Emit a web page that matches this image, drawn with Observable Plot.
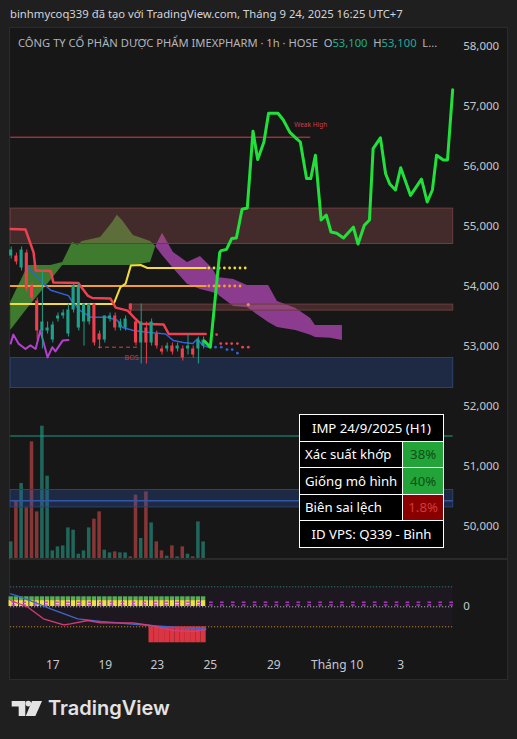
<!DOCTYPE html>
<html><head><meta charset="utf-8">
<script src="https://cdn.jsdelivr.net/npm/d3@7"></script>
<script src="https://cdn.jsdelivr.net/npm/@observablehq/plot@0.6"></script>
<style>
body{margin:0;background:#1f1f1f;width:517px;height:739px;overflow:hidden;position:relative;font-family:"Noto Sans",sans-serif}
.abs{position:absolute}
#panel{left:9px;top:27px;width:497px;height:651px;background:#171717;border:1px solid #2b2b2b}
#sep{left:10px;top:558px;width:497px;height:2px;background:#2a2a2a}
#hdr{left:10px;top:6px;font-size:11.3px;color:#d1d4dc;white-space:nowrap}
#ttl{left:18px;top:35px;font-size:11.2px;color:#b2b5be;white-space:nowrap}
#ttl .t{color:#22ab94}
#stats{left:299px;top:414px;border-collapse:collapse;width:145px;font-size:13.2px;color:#fff}
#stats td{border:1.5px solid #fff;height:25.5px;background:#000;padding:0 5px;white-space:nowrap}
#stats td.hd{text-align:center}
#stats td.v{text-align:center;width:30px}
#logo{left:11px;top:699px}
#logotxt{left:48px;top:694px;font-family:Inter,sans-serif;font-weight:600;font-size:20px;line-height:28px;color:#e3e3e3;white-space:nowrap}
</style></head><body>
<div id="panel" class="abs"></div>
<div id="hdr" class="abs">binhmycoq339 đã tạo với TradingView.com, Tháng 9 24, 2025 16:25 UTC+7</div>
<div id="ttl" class="abs">CÔNG TY CỔ PHẦN DƯỢC PHẨM IMEXPHARM · 1h · HOSE&nbsp;&nbsp;O<span class="t">53,100</span>&nbsp;&nbsp;H<span class="t">53,100</span>&nbsp;&nbsp;L...</div>
<div id="vol" class="abs" style="left:0;top:28px"></div>
<div id="price" class="abs" style="left:0;top:28px"></div>
<div id="sep" class="abs"></div>
<div id="ind" class="abs" style="left:0;top:560px"></div>
<table id="stats" class="abs"></table>
<svg id="logo" class="abs" width="34" height="20">
  <path d="M0.7 2h13.6v15h-6.6v-9.4h-7z" fill="#e3e3e3"/>
  <circle cx="17.3" cy="4.6" r="2.8" fill="#e3e3e3"/>
  <path d="M21 2h10l-6.6 15h-9.6z" fill="#e3e3e3"/>
</svg>
<div id="logotxt" class="abs">TradingView</div>
<script>
// ---------- data ----------
const barOpen  = [54500,54500,54300,54550,54000,53750,53250,53250,53100,53450,53500,53200,53600,53300,53400,53400,53700,53200,53100,53450,53500,53300,53300,53700,53400,53050,53300,53050,53200,52950,52950,53000,52950,52950,52950,52950,52950,53000];
const barHigh  = [54650,54550,54650,54600,54050,53800,54250,53400,53400,53550,53600,53700,54050,54050,53700,53700,53700,53250,53500,53550,53550,53450,53500,53700,53450,53700,53400,53450,53250,53000,53050,53050,53050,53000,53200,53000,53150,53150];
const barLow   = [54450,54350,54250,53900,53750,53100,52950,53200,53050,53400,53450,53150,53550,53250,53000,53350,53000,52950,53050,53400,53250,53250,53250,53550,53000,52700,52700,53000,52950,52850,52900,52850,52900,52750,52850,52800,52700,52950];
const barClose = [54600,54400,54600,53950,53800,53250,53400,53300,53350,53500,53550,53600,54000,54000,53700,53700,53050,53100,53500,53500,53300,53400,53450,53600,53050,53400,53050,53400,53000,52900,53000,52900,53000,52800,53000,52850,53100,53100];
const barVolume = [17600,58600,76000,51600,117600,47600,133300,83300,8600,12600,13600,31600,29300,5300,8600,31600,40300,47600,9300,6600,7600,6600,6600,2600,64300,21000,67600,36600,17600,8600,3300,13600,2600,12600,5300,2600,37600,17600];

// pattern forecast (bar index, price)
const fcIdx   = [37.2,38.3,40.1,40.4,41.4,42.4,43.3,44.4,45.4,46.5,47.4,48.6,49.5,51.3,52.3,53.6,54.7,55.6,56.8,57.6,58.5,59.6,60.6,61.5,62.6,63.9,65.8,66.7,67.9,68.9,69.6,71.0,72.0,72.8,73.9,74.9,76.8,78.9,80.0,81.0,81.8,83.1,83.9,84.9];
const fcPrice = [53080,52980,54560,54590,54610,54790,54800,55280,55300,56580,56110,56400,56880,56880,56770,56560,56470,56400,55790,55790,56180,55100,55180,54900,54880,54800,54980,54700,55010,55100,56290,56470,55870,55700,55600,55970,55510,55780,55400,55600,56180,56100,56100,57270];

// cloud spans
const cloudIdx = [-0.1,3.3,7.6,9.9,11.8,12.8,13.7,17.2,19.5,20.4,21.4,23.5,26.8,27.8,29.1,31.2,33.9,36.4,38.7,39.7,42.8,45.4,49.5,51.2,54.7,57.6,58.5,61.4,63.7];
const spanA = [53730,54340,54340,54390,54730,54680,54740,54810,55060,55180,55090,54840,54740,54660,54510,54290,54030,53940,53890,53860,53660,53640,53390,53310,53260,53180,53140,53130,53090];
const spanB = [53260,53640,54090,54340,54340,54340,54340,54340,54340,54340,54340,54340,54390,54660,54880,54560,54390,54490,54290,54140,54110,54010,54010,53740,53630,53460,53340,53340,53340];

// lines
const redIdx = [-0.1,2.75,4.3,4.7,7.6,8.1,12.9,14.7,15.6,19.1,20.1,22.4,23.9,24.9,29.3,30.3,37.4];
const redVal = [54950,54940,54560,54260,54250,54060,54050,53840,53800,53790,53640,53590,53450,53370,53360,53200,53200];
const blueIdx = [3.3,6.2,7.6,11.0,11.8,13.3,15.3,18.5,20.4,21.4,23.5,26.2,29.7,31.2,33.1,34.9,35.8,36.8,38.0];
const blueVal = [54310,54040,53930,53840,53730,53590,53480,53480,53430,53310,53260,53230,53200,53090,53060,53040,53120,53010,52980];
const yellowIdx = [-0.1,19.7,21.0,22.0,23.0,24.9,26.2,37.4];
const yellowVal = [53700,53700,53980,54040,54340,54350,54300,54300];
const orangeIdx = [-0.1,37.4];
const orangeVal = [54000,54000];
const magentaIdx = [-0.1,0.4,1.4,2.75,3.7,4.7,5.6,7.0,7.9,8.5,9.9,11.0];
const magentaVal = [53040,53190,53040,52950,53010,52950,53260,52810,52980,52910,53090,53100];

// projected dots
const yellowDotIdx = [38,39,40,41,42,43,44,45];
const orangeDotIdx = [38,39,40,41,42,43,44];
const redDotIdx = [39.5,40.3,41.4,42.4,43.5,44.5,45.6];
const redDotVal = [53190,53040,53040,53040,53040,52980,52980];
const blueDotIdx = [39.3,40.4,41.5,42.5,43.5];
const blueDotVal = [52980,52980,52940,52940,52880];
const obDot = {i:45.6, v:53690};

// zones
const zoneKind = ["supply","supply","demand","demand"];
const zoneX1 = [-0.1,23,-0.1,-0.1];
const zoneX2 = [85,85,85,85];
const zoneLow = [54700,53590,52300,50310];
const zoneHigh = [55290,53690,52800,50600];

// levels
const weakHigh = {x1:-0.1, x2:57.6, v:56480};
const tealLevel = {x1:-0.1, x2:85, v:51500};
const blueMid = {x1:-0.1, x2:85, v:50420};
const bos = {x1:16.8, x2:24.3, v:52980};

const yTicks = [50000,51000,52000,53000,54000,55000,56000,57000,58000];
const xTickIdx = [8,18.1,28.1,38.3,50.5,62.7,74.9];
const xTickLabels = ["17","19","23","25","29","Tháng 10","3"];

// oscillator pane
const sigIdx = [-0.1,1.8,7.6,12.8,17.2,26.8,31.2,37.4];
const sigVal = [13,10,-2,-12,-14.7,-18.7,-20.3,-22];
const oscIdx = [-0.1,3.1,6.2,10.1,11.4,14.7,17.2,23.5,26.8,31.2,35.1,37.4];
const oscVal = [6.3,0,-12,-18,-17,-13.7,-16,-16,-18.7,-23.7,-24.7,-22.7];
const histIdx = [27,28,29,30,31,32,33,34,35,36,37];
const histVal = [-36,-36,-36,-36,-36,-36,-36,-36,-36,-36,-36];
const oscUpper = 20, oscLower = -20;
const eqIdx = [0.5,2.6,4.7,6.8,8.9,11,13.1,15.2,17.3,19.4,21.5,23.6,25.7,27.8,29.9,32,34.1,36.2,38.5,40.6,42.7,44.8,46.9,49,51.1,53.2,55.3,57.4,59.5,61.6,63.7,65.8,67.9,70,72.1,74.2,76.3,78.4,80.5,82.6,84.7];

const statLabels = ["Xác suất khớp","Giống mô hình","Biên sai lệch"];
const statValues = ["38%","40%","1.8%"];
const statGood = [true,true,false];
const statTitle = "IMP 24/9/2025 (H1)";
const statFooter = "ID VPS: Q339 - Bình";

// ---------- build ----------
const C = {up:"#1fa08a", down:"#ee3f4f", volUp:"#1f665b", volDown:"#873535"};
const bars = barOpen.map((o,i)=>({i, open:o, high:barHigh[i], low:barLow[i], close:barClose[i], vol:barVolume[i], up:barClose[i]>=o}));
const fc = fcIdx.map((i,k)=>({i, v:fcPrice[k]}));
const cloud = cloudIdx.map((i,k)=>({i, a:spanA[k], b:spanB[k]}));
const pts = (xs, ys) => xs.map((i,k)=>({i, v:ys[k]}));
const zones = zoneKind.map((kind,k)=>({kind, x1:zoneX1[k], x2:zoneX2[k], lo:zoneLow[k], hi:zoneHigh[k]}));

const W = 517, mL = 10.7, mR = 64.3;
const xOpt = {domain:[0,85], axis:null};
const baseStyle = {background:"transparent", color:"#b2b5be", fontFamily:"Noto Sans", fontSize:"11.5px", overflow:"visible"};

const pricePlot = Plot.plot({
  width:W, height:531, marginTop:0, marginBottom:0, marginLeft:mL, marginRight:mR,
  x:xOpt, y:{domain:[49441.7,58291.7], axis:null},
  style:baseStyle,
  marks:[
    Plot.areaY(cloud, {x:"i", y1:"b", y2:d=>Math.max(d.a,d.b), fill:"#3e7b2e"}),
    Plot.areaY(cloud, {x:"i", y1:"a", y2:d=>Math.max(d.a,d.b), fill:"#8b3c8f"}),
    Plot.rect(zones, {filter:d=>d.kind==="supply", x1:"x1", x2:"x2", y1:"lo", y2:"hi", fill:"rgb(160,85,85)", fillOpacity:0.33, stroke:"#6a3e3e", strokeWidth:1}),
    Plot.rect(zones, {filter:d=>d.kind==="demand", x1:"x1", x2:"x2", y1:"lo", y2:"hi", fill:"rgb(45,85,170)", fillOpacity:0.3, stroke:"#2b4270", strokeWidth:1}),
    Plot.ruleY([blueMid], {y:"v", x1:"x1", x2:"x2", stroke:"#3356a8", strokeWidth:1.5}),
    Plot.ruleY([tealLevel], {y:"v", x1:"x1", x2:"x2", stroke:"#1f9c87", strokeWidth:1}),
    Plot.ruleY([weakHigh], {y:"v", x1:"x1", x2:"x2", stroke:"#d8404c", strokeWidth:1}),
    Plot.text([weakHigh], {x:"x2", y:"v", text:()=>"Weak High", dy:-12, fill:"#c8404c", fontSize:6.5}),
    Plot.line(pts(orangeIdx, orangeVal), {x:"i", y:"v", stroke:"#f0a030", strokeWidth:2}),
    Plot.line(pts(yellowIdx, yellowVal), {x:"i", y:"v", stroke:"#f2dc3a", strokeWidth:2}),
    Plot.line(pts(blueIdx, blueVal), {x:"i", y:"v", stroke:"#2f62d8", strokeWidth:1.5}),
    Plot.line(pts(redIdx, redVal), {x:"i", y:"v", stroke:"#ec4150", strokeWidth:2.5}),
    Plot.line(pts(magentaIdx, magentaVal), {x:"i", y:"v", stroke:"#b43fd0", strokeWidth:2}),
    Plot.dot(yellowDotIdx, {x:d=>d, y:()=>yellowVal[yellowVal.length-1], r:1.4, fill:"#f2dc3a"}),
    Plot.dot(orangeDotIdx, {x:d=>d, y:()=>orangeVal[orangeVal.length-1], r:1.4, fill:"#f0a030"}),
    Plot.dot([obDot], {x:"i", y:"v", r:1.6, fill:"#f08a50"}),
    Plot.dot(pts(redDotIdx, redDotVal), {x:"i", y:"v", r:1.4, fill:"#ec4150"}),
    Plot.dot(pts(blueDotIdx, blueDotVal), {x:"i", y:"v", r:1.4, fill:"#2f62d8"}),
    Plot.ruleY([bos], {y:"v", x1:"x1", x2:"x2", stroke:"#d04650", strokeWidth:1, strokeDasharray:"4,3"}),
    Plot.text([bos], {x:"x2", y:"v", text:()=>"BOS", dx:-6, dy:11, fill:"#b8464c", fontSize:7}),
    Plot.ruleX(bars, {filter:d=>d.up, x:"i", y1:"low", y2:"high", stroke:C.up, strokeWidth:1}),
    Plot.ruleX(bars, {filter:d=>!d.up, x:"i", y1:"low", y2:"high", stroke:C.down, strokeWidth:1}),
    Plot.rect(bars, {filter:d=>d.up, x1:d=>d.i-0.3, x2:d=>d.i+0.3, y1:"open", y2:"close", fill:C.up}),
    Plot.rect(bars, {filter:d=>!d.up, x1:d=>d.i-0.3, x2:d=>d.i+0.3, y1:"open", y2:"close", fill:C.down}),
    Plot.line(fc, {x:"i", y:"v", stroke:"#22e03c", strokeWidth:3, strokeLinejoin:"round"}),
    Plot.axisY({anchor:"right", ticks:yTicks, tickFormat:d3.format(","), tickSize:0, tickPadding:10, fontSize:11.5, fill:"#c4c7cf", label:null})
  ]
});
document.getElementById("price").append(pricePlot);

const volPlot = Plot.plot({
  width:W, height:531, marginTop:0, marginBottom:0, marginLeft:mL, marginRight:mR,
  x:xOpt, y:{domain:[0,531000], axis:null},
  style:baseStyle,
  marks:[
    Plot.rect(bars, {filter:d=>d.up, x1:d=>d.i-0.34, x2:d=>d.i+0.34, y1:()=>0, y2:"vol", fill:C.volUp}),
    Plot.rect(bars, {filter:d=>!d.up, x1:d=>d.i-0.34, x2:d=>d.i+0.34, y1:()=>0, y2:"vol", fill:C.volDown})
  ]
});
document.getElementById("vol").append(volPlot);

const eqTop = eqIdx.map(i=>({i, v:4.6}));
const eqBot = eqIdx.map(i=>({i, v:1.8}));
const indPlot = Plot.plot({
  width:W, height:120, marginTop:0, marginBottom:24, marginLeft:mL, marginRight:mR,
  x:xOpt, y:{domain:[-73.7,46.3], range:[120,0], axis:null},
  style:{...baseStyle, fontSize:"12px"},
  marks:[
    Plot.rect([{x1:-0.1,x2:85}], {x1:"x1", x2:"x2", y1:()=>oscLower, y2:()=>oscUpper, fill:"#1d1820"}),
    Plot.ruleY([oscUpper], {x1:()=>-0.1, x2:()=>85, stroke:"#2a8f80", strokeDasharray:"1,2"}),
    Plot.ruleY([oscLower], {x1:()=>-0.1, x2:()=>85, stroke:"#e0962e", strokeDasharray:"1,2"}),
    Plot.rect(bars, {x1:d=>d.i-0.42, x2:d=>d.i+0.42, y1:()=>6.2, y2:()=>10, fill:"#4fb05a"}),
    Plot.rect(bars, {x1:d=>d.i-0.42, x2:d=>d.i+0.42, y1:()=>0.3, y2:()=>6.2, fill:"#ece048"}),
    Plot.ruleY([0], {x1:()=>-0.1, x2:()=>85, stroke:"#c8c8c8", strokeDasharray:"1,2"}),
    Plot.ruleY(eqTop, {y:"v", x1:d=>d.i-0.35, x2:d=>d.i+0.35, stroke:"#c03cd8", strokeWidth:1.3}),
    Plot.ruleY(eqBot, {y:"v", x1:d=>d.i-0.35, x2:d=>d.i+0.35, stroke:"#c03cd8", strokeWidth:1.3}),
    Plot.rect(pts(histIdx, histVal), {x1:d=>d.i-0.5, x2:d=>d.i+0.5, y1:()=>oscLower, y2:"v", fill:"#da3540"}),
    Plot.line(pts(sigIdx, sigVal), {x:"i", y:"v", stroke:"#3f67c8", strokeWidth:1.3}),
    Plot.line(pts(oscIdx, oscVal), {x:"i", y:"v", stroke:"#d63a78", strokeWidth:1.3}),
    Plot.axisY({anchor:"right", ticks:[0], tickSize:0, tickPadding:10, fontSize:11.5, fill:"#c4c7cf", label:null}),
    Plot.axisX({anchor:"bottom", ticks:xTickIdx, tickFormat:d=>xTickLabels[xTickIdx.indexOf(d)], tickSize:0, tickPadding:4, fontSize:12, fill:"#c4c7cf", label:null})
  ]
});
document.getElementById("ind").append(indPlot);

// stats table
const tb = document.getElementById("stats");
const addRow = (html) => { const tr = document.createElement("tr"); tr.innerHTML = html; tb.append(tr); };
addRow(`<td colspan="2" class="hd">${statTitle}</td>`);
statLabels.forEach((l,k)=>{
  const bg = statGood[k] ? "#22a438" : "#8a0000";
  const fg = statGood[k] ? "#0d4f17" : "#d23a3a";
  addRow(`<td>${l}</td><td class="v" style="background:${bg};color:${fg}">${statValues[k]}</td>`);
});
addRow(`<td colspan="2" class="hd">${statFooter}</td>`);
</script>
</body></html>
